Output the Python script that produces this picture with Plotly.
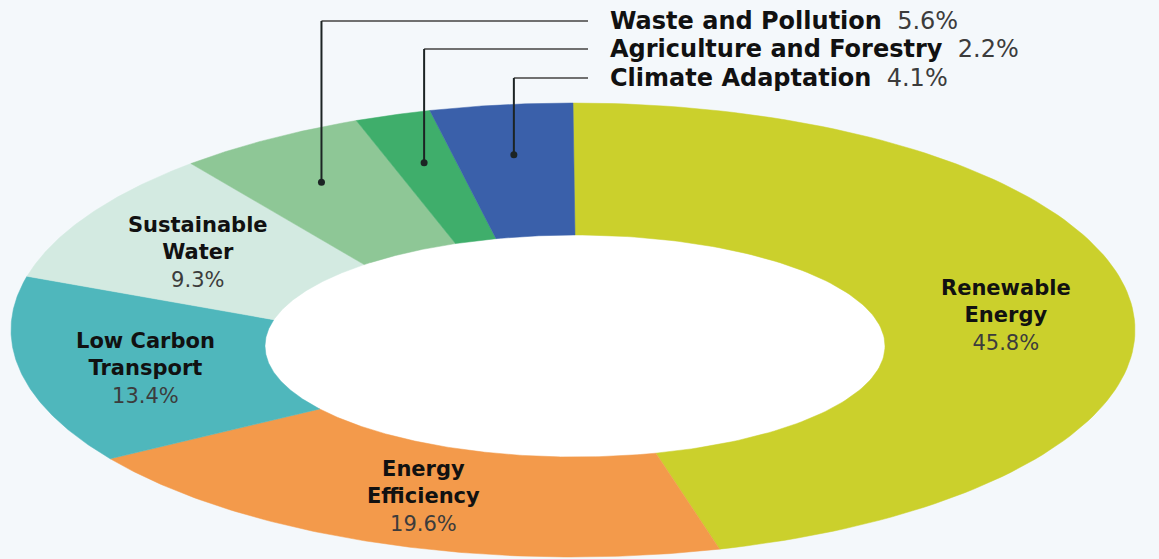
import numpy as np
import plotly.graph_objects as go

# ---------------- data ----------------
categories = ["Renewable Energy", "Energy Efficiency", "Low Carbon Transport",
              "Sustainable Water", "Waste and Pollution", "Agriculture and Forestry",
              "Climate Adaptation"]
label_lines = [["Renewable", "Energy"], ["Energy", "Efficiency"], ["Low Carbon", "Transport"],
               ["Sustainable", "Water"], None, None, None]
shares = [45.8, 19.6, 13.4, 9.3, 5.6, 2.2, 4.1]
colors = ["#cbd02c", "#f39a4b", "#4fb7bc", "#d3eae1", "#8ec796", "#3fae6b", "#3a60aa"]
callout_order = ["Waste and Pollution", "Agriculture and Forestry", "Climate Adaptation"]

# ---------------- style / geometry ----------------
W, H = 1159, 559
BG = "#f4f8fb"
OUT = dict(cx=573, cy=330, rx=562, ry=227)
INN = dict(cx=575, cy=346, rx=310, ry=111)
LABEL_FONT = dict(family="DejaVu Sans", size=21, color="#111111")
CALL_FONT = dict(family="DejaVu Sans", size=24, color="#111111")
ROW_Y = [21, 49, 78]
TEXT_X = 608


def pt(g, t):
    return g["cx"] + g["rx"] * np.sin(t), g["cy"] - g["ry"] * np.cos(t)


total = sum(shares)
cum = np.concatenate([[0], np.cumsum(shares)]) / total

fig = go.Figure()

# hole
th = np.linspace(0, 2 * np.pi, 200)
hx, hy = pt(INN, th)
fig.add_trace(go.Scatter(x=hx, y=hy, fill="toself", fillcolor="#ffffff", mode="lines",
                         line=dict(width=0), hoverinfo="skip", showlegend=False))

annotations = []
for i, (cat, s, col) in enumerate(zip(categories, shares, colors)):
    t0, t1 = cum[i] * 2 * np.pi, cum[i + 1] * 2 * np.pi
    t = np.linspace(t0, t1, 120)
    ox, oy = pt(OUT, t)
    ix, iy = pt(INN, t[::-1])
    xs = np.concatenate([ox, ix, ox[:1]])
    ys = np.concatenate([oy, iy, oy[:1]])
    fig.add_trace(go.Scatter(x=xs, y=ys, fill="toself", fillcolor=col, mode="lines",
                             line=dict(width=0.5, color=col), name=cat,
                             hoverinfo="text", text=f"{cat}: {s}%", showlegend=False))
    tm = (t0 + t1) / 2
    mox, moy = pt(OUT, tm)
    mix, miy = pt(INN, tm)
    if label_lines[i] is not None:
        lx, ly = (mox + mix) / 2, (moy + miy) / 2
        txt = ("<b>" + "<br>".join(label_lines[i]) + "</b><br>"
               + f"<span style='color:#3c3c3c'>{s}%</span>")
        annotations.append(dict(
            x=lx, y=ly, xref="x", yref="y", showarrow=False, text=txt,
            font=LABEL_FONT, align="center", xanchor="center", yanchor="middle"))
    else:
        row = callout_order.index(cat)
        ry = ROW_Y[row]
        f = 0.62
        dx, dy = mix + f * (mox - mix), miy + f * (moy - miy)
        fig.add_trace(go.Scatter(x=[TEXT_X - 20, dx], y=[ry, ry], mode="lines",
                                 line=dict(color="#707070", width=2),
                                 hoverinfo="skip", showlegend=False))
        fig.add_trace(go.Scatter(x=[dx, dx], y=[ry, dy], mode="lines",
                                 line=dict(color="#1c2424", width=2),
                                 hoverinfo="skip", showlegend=False))
        fig.add_trace(go.Scatter(x=[dx], y=[dy], mode="markers",
                                 marker=dict(color="#1c2424", size=7, symbol="circle"),
                                 hoverinfo="skip", showlegend=False))
        annotations.append(dict(
            x=TEXT_X, y=ry, xref="x", yref="y", showarrow=False, xanchor="left",
            yanchor="middle",
            text=f"<b>{cat}</b>&nbsp;&nbsp;<span style='color:#3c3c3c'>{s}%</span>",
            font=CALL_FONT))

fig.update_layout(
    width=W, height=H, margin=dict(l=0, r=0, t=0, b=0),
    paper_bgcolor=BG, plot_bgcolor=BG,
    xaxis=dict(range=[0, W], visible=False, fixedrange=True),
    yaxis=dict(range=[H, 0], visible=False, fixedrange=True),
    annotations=annotations, showlegend=False,
)

fig.write_html("out.html", config={"displayModeBar": False},
               post_script="document.body.style.margin='0';document.body.style.overflow='hidden';"
                           "document.body.style.background='" + BG + "';")
